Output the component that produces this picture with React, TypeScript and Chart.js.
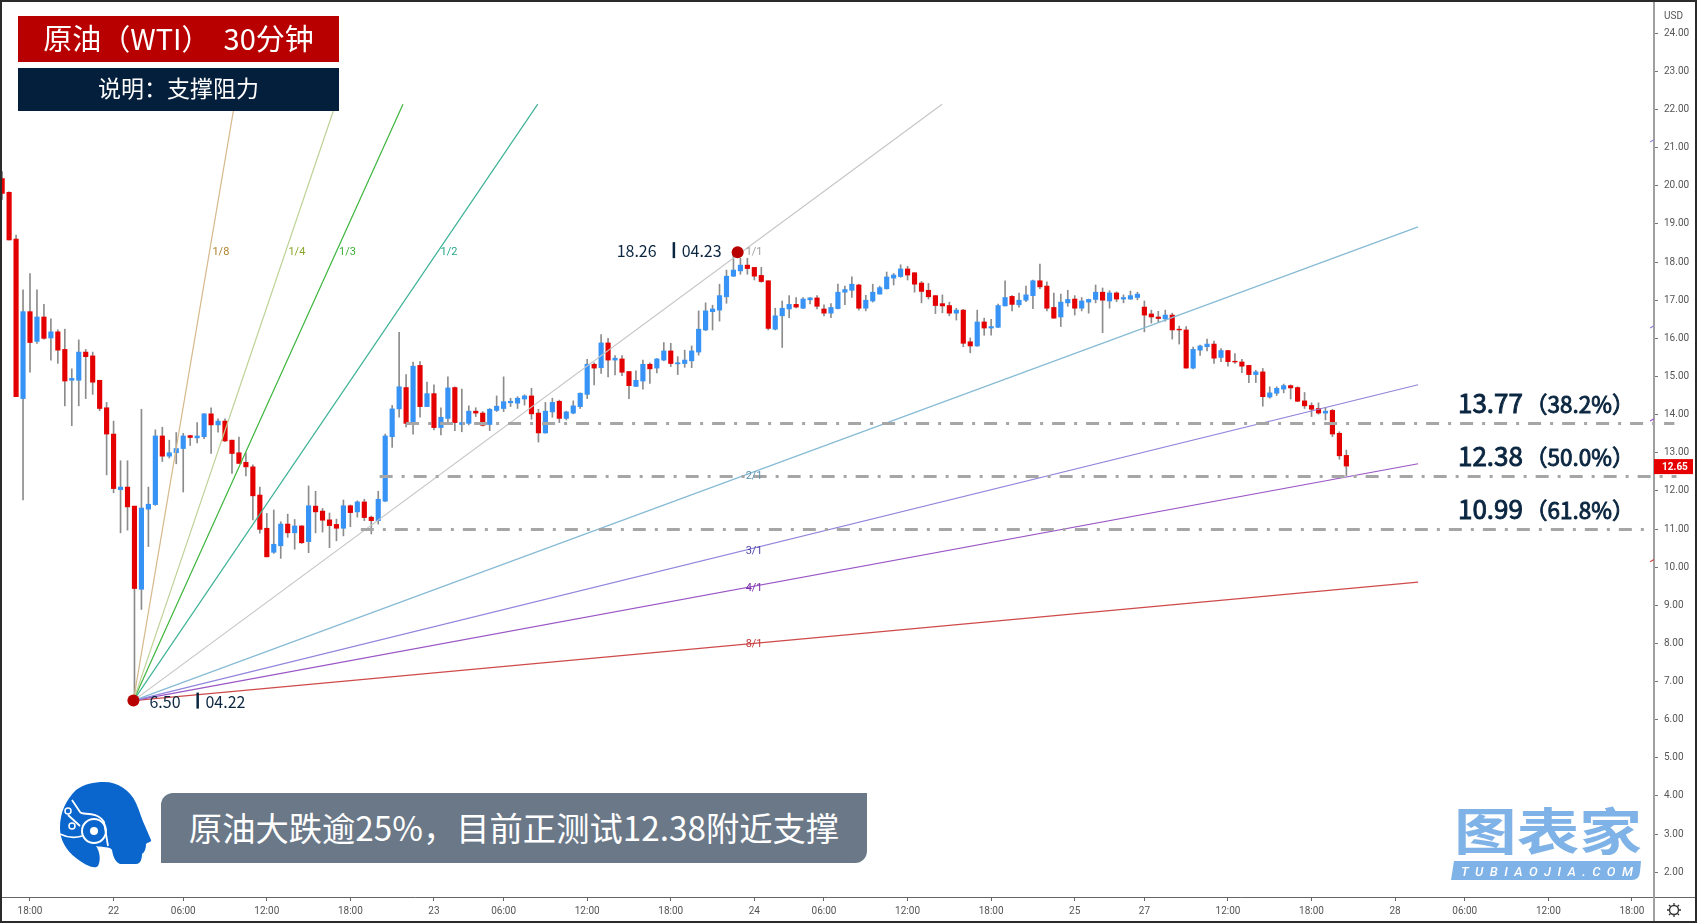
import React, { useEffect, useRef } from "react";
import { Chart, registerables } from "chart.js";

Chart.register(...registerables);

const firstBar = -4;
const opens = [
  20.19,19.83,18.60,14.42,16.70,15.92,16.56,16.01,16.17,15.71,
  14.90,14.90,15.64,15.54,14.90,14.18,13.49,12.03,12.10,11.60,
  9.42,11.52,11.64,13.44,12.91,13.00,13.11,13.45,13.39,13.42,
  14.02,13.73,13.83,13.33,13.00,12.75,12.63,11.89,11.02,10.39,
  10.56,11.13,10.90,11.08,10.67,11.60,11.47,11.24,11.12,11.02,
  11.61,11.45,11.71,11.31,11.22,11.73,13.42,14.15,14.71,13.79,
  15.29,14.21,14.55,13.66,13.90,14.71,13.74,13.77,14.09,14.04,
  13.74,14.11,14.16,14.31,14.30,14.41,14.49,14.04,13.52,14.07,
  14.35,13.90,14.04,14.21,14.53,15.32,15.23,15.88,15.43,15.46,
  15.13,14.74,14.88,15.32,15.22,15.43,15.67,15.33,15.34,15.41,
  15.64,16.22,16.70,16.74,17.09,17.63,17.77,17.92,17.86,17.65,
  17.51,16.24,16.59,16.77,16.89,16.79,17.01,17.06,16.77,16.66,
  16.78,17.21,17.26,17.40,16.79,16.98,17.16,17.30,17.58,17.62,
  17.82,17.72,17.45,17.26,17.12,16.91,16.86,16.66,16.74,15.91,
  15.80,16.43,16.27,16.29,16.85,17.10,16.88,17.00,17.12,17.51,
  17.37,16.81,16.56,16.93,17.03,16.79,16.95,17.02,17.21,16.98,
  17.19,17.03,17.03,17.07,16.82,16.64,16.56,16.51,16.61,16.24,
  16.22,15.22,15.69,15.78,15.85,15.50,15.68,15.40,15.38,15.29,
  15.05,15.12,14.46,14.56,14.67,14.76,14.71,14.36,14.24,14.16,
  14.04,14.11,13.51,12.93,
];
const closes = [
  19.80,18.58,14.47,16.70,15.89,16.56,16.00,16.17,15.69,14.88,
  14.95,15.64,15.52,14.85,14.16,13.49,12.06,12.10,11.58,9.44,
  11.55,11.65,13.44,12.91,13.00,13.11,13.44,13.40,13.44,14.02,
  13.73,13.83,13.31,12.98,12.72,12.63,11.87,10.99,10.27,10.60,
  11.13,10.90,11.08,10.64,11.61,11.45,11.23,11.09,11.02,11.61,
  11.43,11.71,11.30,11.22,11.78,13.44,14.15,14.73,13.77,15.27,
  14.21,14.55,13.66,13.93,14.70,13.79,13.79,14.09,14.04,13.72,
  14.14,14.22,14.34,14.35,14.43,14.49,14.02,13.52,14.09,14.32,
  13.90,14.07,14.23,14.56,15.32,15.22,15.88,15.43,15.48,15.11,
  14.76,14.90,15.32,15.20,15.46,15.67,15.34,15.36,15.43,15.67,
  16.24,16.72,16.77,17.12,17.63,17.79,17.92,17.83,17.63,17.49,
  16.26,16.59,16.79,16.89,16.82,17.03,17.06,16.84,16.66,16.81,
  17.21,17.28,17.42,16.79,17.00,17.21,17.33,17.61,17.66,17.82,
  17.66,17.42,17.23,17.09,16.86,16.85,16.66,16.74,15.87,15.80,
  16.43,16.27,16.31,16.86,17.07,16.89,17.00,17.14,17.51,17.35,
  16.79,16.53,16.95,17.02,16.79,16.98,17.02,17.21,17.00,17.19,
  17.03,17.07,17.12,17.16,16.61,16.56,16.52,16.61,16.22,16.22,
  15.22,15.71,15.80,15.85,15.48,15.68,15.39,15.38,15.27,15.05,
  15.12,14.47,14.57,14.69,14.76,14.70,14.35,14.23,14.14,14.04,
  14.09,13.49,12.92,12.65,
];
const highs = [
  20.37,19.84,18.71,17.27,17.70,17.27,16.89,16.51,16.22,16.24,
  15.20,15.96,15.71,15.64,14.90,14.32,13.83,12.79,12.79,11.60,
  14.14,12.10,13.60,13.67,13.33,13.53,13.51,13.46,13.79,14.03,
  14.18,13.89,13.89,13.33,13.41,13.00,12.68,12.10,11.41,11.50,
  11.19,11.39,11.25,11.09,12.13,11.99,11.54,11.42,11.26,11.76,
  11.63,11.74,11.78,11.34,11.99,13.49,14.24,16.16,15.05,15.38,
  15.39,14.85,14.78,14.18,14.99,14.73,14.67,14.23,14.18,14.08,
  14.16,14.49,14.99,14.43,14.47,14.52,14.69,14.14,14.32,14.43,
  14.38,14.09,14.36,14.57,15.45,15.36,16.10,16.00,15.55,15.55,
  15.13,15.15,15.43,15.36,15.47,15.89,15.87,15.52,15.69,15.80,
  16.72,16.93,16.87,17.42,17.79,18.26,18.10,18.10,17.86,17.86,
  17.51,16.79,16.98,17.12,17.07,17.07,17.07,17.12,16.88,16.91,
  17.42,17.37,17.61,17.42,17.13,17.42,17.37,17.74,17.70,17.93,
  17.89,17.72,17.49,17.44,17.12,17.14,16.95,16.79,16.76,16.01,
  16.74,16.53,16.50,16.90,17.51,17.12,17.19,17.37,17.53,17.95,
  17.48,17.19,17.16,17.26,17.12,17.07,17.03,17.40,17.32,17.25,
  17.22,17.14,17.24,17.21,16.98,16.74,16.71,16.74,16.66,16.32,
  16.31,15.77,15.82,15.98,15.93,15.73,15.68,15.60,15.45,15.29,
  15.16,15.21,14.73,14.73,14.80,14.78,14.73,14.58,14.31,14.31,
  14.19,14.14,13.55,13.07,
];
const lows = [
  19.64,18.58,14.47,11.76,15.11,15.87,15.98,15.43,15.34,14.23,
  13.71,14.23,14.42,14.53,14.10,12.42,11.95,10.90,10.97,6.50,
  8.89,10.54,11.62,12.77,12.86,12.71,11.97,13.19,13.26,13.37,
  12.98,13.54,13.29,12.46,12.72,12.39,11.24,10.89,10.27,10.36,
  10.23,10.78,10.47,10.62,10.38,10.90,10.92,10.51,10.69,10.82,
  11.06,11.31,11.22,10.87,11.13,11.72,13.14,13.93,13.68,13.49,
  13.93,14.21,13.60,13.47,13.81,13.58,13.55,13.73,13.95,13.70,
  13.58,14.08,14.08,14.21,14.16,14.25,13.88,13.28,13.51,13.93,
  13.79,13.86,14.02,14.16,14.42,14.78,15.08,14.99,15.04,15.02,
  14.42,14.73,14.67,14.82,15.09,15.41,15.26,15.05,15.24,15.23,
  15.56,16.20,16.22,16.45,16.92,17.62,17.68,17.68,17.53,17.47,
  16.22,16.22,15.76,16.54,16.80,16.78,16.90,16.77,16.59,16.54,
  16.77,16.88,17.07,16.74,16.72,16.95,17.16,17.29,17.40,17.60,
  17.53,17.21,16.93,17.03,16.65,16.67,16.59,16.48,15.78,15.62,
  15.79,16.08,16.08,16.28,16.85,16.72,16.82,16.96,16.78,17.30,
  16.72,16.52,16.31,16.84,16.61,16.72,16.66,16.93,16.15,16.79,
  16.96,16.93,17.02,17.01,16.17,16.40,16.42,16.45,15.98,15.85,
  15.22,15.20,15.55,15.67,15.34,15.39,15.27,15.34,15.10,14.84,
  14.84,14.22,14.43,14.50,14.57,14.41,14.34,14.16,13.95,14.01,
  13.86,13.42,12.83,12.40,
];

const xTickBars = [0,12,22,34,46,58,68,80,92,104,114,126,138,150,160,172,184,196,206,218,230];
const xTickLabels = ["18:00","22","06:00","12:00","18:00","23","06:00","12:00","18:00","24","06:00","12:00","18:00","25","27","12:00","18:00","28","06:00","12:00","18:00"];
const yTickValues = [2,3,4,5,6,7,8,9,10,11,12,13,14,15,16,17,18,19,20,21,22,23,24];

const pivotLow = { bar: 14.85, price: 6.5, text: "6.50", date: "04.22" };
const pivotHigh = { bar: 101.6, price: 18.26, text: "18.26", date: "04.23" };
const fanRunBars = 87.3;
const fanCeiling = 22.14;
const fanEndBar = 199.3;

const fanNames = ["1/8","1/4","1/3","1/2","1/1","2/1","3/1","4/1","8/1"];
const fanRatios = [8,4,3,2,1,1/2,1/3,1/4,1/8];
const fanLineColors = ["#d6b98c","#bdd296","#3db53d","#3fb296","#c6c6c6","#86bad6","#8f85dc","#9a55c6","#cf4a4a"];
const fanTextColors = ["#b0822c","#8aa62a","#3cb034","#22a884","#a0a0a0","#5f93ad","#4f45a8","#7a2ba8","#c03a3a"];

const levelPrices = [13.77,12.38,10.99];
const levelStarts = [54,50.2,47.5];
const levelEnds = [236.1,236.4,232];
const levelPercents = ["（38.2%）","（50.0%）","（61.8%）"];
const levelPriceTexts = ["13.77","12.38","10.99"];

const stubValues = [21.18,16.30,13.86,10.17];
const stubColors = ["#8f85dc","#8f85dc","#9a55c6","#cf4a4a"];

const lastPrice = 12.65;

const UP = "#3793f5";
const DOWN = "#e40000";
const NAVY = "#0b2640";
const CJK = '"Noto Sans CJK SC", "Noto Sans", sans-serif';

const pinAreaPlugin = {
  id: "pinArea",
  afterLayout(chart: any) {
    const { chartArea: a, scales } = chart;
    a.top = 2;
    a.bottom = 897;
    a.height = 895;
    const { x, y } = scales;
    y.top = 2;
    y.bottom = 897;
    y.height = 895;
    y.configure();
    x.top = 897;
    x.bottom = 921;
    x.height = 24;
    x.configure();
  },
};

const annotationPlugin = {
  id: "annotationText",
  afterDatasetsDraw(chart: any) {
    const { ctx, scales } = chart;
    const xs = scales.x;
    const ys = scales.y;
    const rise = pivotHigh.price - pivotLow.price;
    ctx.save();
    ctx.textBaseline = "middle";
    ctx.textAlign = "left";
    ctx.font = '11px Roboto, sans-serif';
    fanNames.forEach((name, i) => {
      const r = fanRatios[i];
      ctx.fillStyle = fanTextColors[i];
      if (r > 1) {
        const b = pivotLow.bar + fanRunBars / r;
        ctx.fillText(name, xs.getPixelForValue(b) + 3, ys.getPixelForValue(pivotHigh.price));
      } else {
        const p = pivotLow.price + rise * r;
        ctx.fillText(name, xs.getPixelForValue(pivotHigh.bar) + 8, ys.getPixelForValue(p));
      }
    });

    ctx.textBaseline = "alphabetic";
    ctx.fillStyle = NAVY;
    ctx.strokeStyle = NAVY;
    ctx.lineWidth = 0.9;
    levelPrices.forEach((p, i) => {
      const y = ys.getPixelForValue(p) - 10;
      ctx.font = `26px ${CJK}`;
      ctx.fillText(levelPriceTexts[i], 1458, y);
      ctx.strokeText(levelPriceTexts[i], 1458, y);
      ctx.font = `22.5px ${CJK}`;
      ctx.fillText(levelPercents[i], 1525, y);
      ctx.strokeText(levelPercents[i], 1525, y);
    });

    const pivotText = (p: any, dxA: number, dxBar: number, dxB: number, dy: number) => {
      const x = xs.getPixelForValue(p.bar);
      const y = ys.getPixelForValue(p.price);
      ctx.font = `16px ${CJK}`;
      ctx.fillStyle = NAVY;
      ctx.fillText(p.text, x + dxA, y + dy);
      ctx.fillText(p.date, x + dxB, y + dy);
      ctx.fillRect(x + dxBar, y + dy - 15, 2.5, 16);
    };
    pivotText(pivotHigh, -121, -65, -56, 5);
    pivotText(pivotLow, 16, 63, 72, 7);

    // price scale furniture
    ctx.font = '10px Roboto, sans-serif';
    ctx.fillStyle = "#555";
    ctx.textAlign = "left";
    ctx.fillText("USD", 1664, 19);
    const yp = ys.getPixelForValue(lastPrice);
    ctx.fillStyle = "#e60000";
    ctx.fillRect(1654, yp - 7, 39, 15);
    ctx.fillStyle = "#fff";
    ctx.font = 'bold 10px Roboto, sans-serif';
    ctx.fillText(lastPrice.toFixed(2), 1662, yp + 4);
    ctx.strokeStyle = "#666";
    ctx.lineWidth = 1;
    ctx.beginPath();
    ctx.moveTo(1654, 897.5);
    ctx.lineTo(1695, 897.5);
    ctx.stroke();
    ctx.strokeStyle = "#a0a0a0";
    ctx.lineWidth = 2;
    ctx.beginPath();
    ctx.moveTo(1654, 897);
    ctx.lineTo(1654, 921);
    ctx.stroke();
    ctx.restore();
  },
};

export default function App() {
  const ref = useRef<HTMLCanvasElement>(null);
  useEffect(() => {
    document.body.style.margin = "0";
    document.body.style.background = "#fff";
    const barX = (i: number) => i + firstBar;
    const fanDatasets = fanRatios.map((r, i) => {
      const slope = ((pivotHigh.price - pivotLow.price) / fanRunBars) * r;
      const capBar = pivotLow.bar + (fanCeiling - pivotLow.price) / slope;
      const endBar = Math.min(capBar, fanEndBar);
      return {
        type: "line",
        data: [
          { x: pivotLow.bar, y: pivotLow.price },
          { x: endBar, y: pivotLow.price + slope * (endBar - pivotLow.bar) },
        ],
        borderColor: fanLineColors[i],
        borderWidth: 1.2,
        pointRadius: 0,
        order: 3,
      };
    });
    const levelDatasets = levelPrices.map((p, i) => ({
      type: "line",
      data: [
        { x: levelStarts[i], y: p },
        { x: levelEnds[i], y: p },
      ],
      borderColor: "#a6a6a6",
      borderWidth: 3,
      borderDash: [13, 9, 3, 9],
      pointRadius: 0,
      clip: false,
      order: 2,
    }));
    const stubDatasets = stubValues.map((v, i) => ({
      type: "line",
      data: [
        { x: 232.6, y: v - 0.03 },
        { x: 233.17, y: v + 0.03 },
      ],
      borderColor: stubColors[i],
      borderWidth: 1.2,
      pointRadius: 0,
      order: 3,
    }));
    const chart = new Chart(ref.current as HTMLCanvasElement, {
      type: "bar",
      data: {
        datasets: [
          {
            type: "bar",
            data: highs.map((h, i) => ({ x: barX(i), y: [lows[i], h] })),
            backgroundColor: "#8c8c8c",
            barThickness: 1,
            grouped: false,
            order: 6,
          },
          {
            type: "bar",
            data: opens.map((o, i) => ({ x: barX(i), y: [o, closes[i]] })),
            backgroundColor: opens.map((o, i) => (closes[i] >= o ? UP : DOWN)),
            barThickness: 4.5,
            grouped: false,
            order: 5,
          },
          ...fanDatasets,
          ...stubDatasets,
          ...levelDatasets,
          {
            type: "line",
            data: [
              { x: pivotLow.bar, y: pivotLow.price },
              { x: pivotHigh.bar, y: pivotHigh.price },
            ],
            showLine: false,
            pointRadius: 6,
            pointBackgroundColor: "#b80000",
            pointBorderWidth: 0,
            clip: false,
            order: 1,
          },
        ] as any,
      },
      options: {
        responsive: false,
        animation: false,
        devicePixelRatio: 1,
        events: [],
        layout: { autoPadding: false, padding: { left: 2, top: 2, right: 2, bottom: 2 } },
        plugins: { legend: { display: false }, tooltip: { enabled: false } },
        scales: {
          x: {
            type: "linear",
            min: -4.02,
            max: 233.17,
            offset: false,
            afterBuildTicks: (s: any) => {
              s.ticks = xTickBars.map((value) => ({ value }));
            },
            afterFit: (s: any) => {
              s.height = 24;
            },
            grid: { offset: false, drawOnChartArea: false, drawTicks: true, tickLength: 4, color: "#666" },
            border: { color: "#666", width: 1 },
            ticks: {
              autoSkip: false,
              maxRotation: 0,
              padding: 4,
              color: "#555",
              font: { family: "Roboto", size: 10 },
              callback: (_v: any, i: number) => xTickLabels[i],
            },
          },
          y: {
            type: "linear",
            position: "right",
            min: 1.35,
            max: 24.82,
            afterBuildTicks: (s: any) => {
              s.ticks = yTickValues.map((value) => ({ value }));
            },
            afterFit: (s: any) => {
              s.width = 41;
            },
            grid: { drawOnChartArea: false, drawTicks: true, tickLength: 4, color: "#777" },
            border: { color: "#a0a0a0", width: 2 },
            ticks: {
              autoSkip: false,
              padding: 6,
              color: "#555",
              font: { family: "Roboto", size: 10 },
              callback: (v: any) => Number(v).toFixed(2),
            },
          },
        },
      } as any,
      plugins: [pinAreaPlugin, annotationPlugin] as any,
    });
    return () => chart.destroy();
  }, []);

  const box = (x: number, y: number, w: number, h: number, bg: string, size: number, text: string) => (
    <div
      style={{
        position: "absolute",
        left: x,
        top: y,
        width: w,
        height: h,
        paddingBottom: 5,
        boxSizing: "border-box",
        background: bg,
        color: "#fff",
        font: `${size}px ${CJK}`,
        display: "flex",
        alignItems: "center",
        justifyContent: "center",
        whiteSpace: "pre",
      }}
    >
      {text}
    </div>
  );

  return (
    <div style={{ position: "fixed", left: 0, top: 0, width: 1697, height: 923, overflow: "hidden", background: "#fff" }}>
      <canvas ref={ref} width={1697} height={923} style={{ display: "block", width: 1697, height: 923 }} />
      <div style={{ position: "absolute", left: 0, top: 0, width: 1697, height: 923, boxSizing: "border-box", border: "2px solid #2b2b2b", pointerEvents: "none" }} />
      {box(18, 16, 321, 46, "#b80000", 29, "原油（WTI）  30分钟")}
      {box(18, 68, 321, 43, "#041f3b", 23, "说明：支撑阻力")}
      <div
        style={{
          position: "absolute",
          left: 161,
          top: 793,
          width: 706,
          height: 70,
          paddingBottom: 4,
          boxSizing: "border-box",
          background: "#6a7888",
          borderRadius: "12px 0 12px 0",
          color: "#fff",
          font: `33.3px ${CJK}`,
          display: "flex",
          alignItems: "center",
          justifyContent: "center",
          whiteSpace: "pre",
        }}
      >
        原油大跌逾25%，目前正测试12.38附近支撑
      </div>
      <svg width={1697} height={923} style={{ position: "absolute", left: 0, top: 0, pointerEvents: "none" }}>
        <path
          d="M104 782C118 782 130 790 136 803C140 812 142 820 145 826L151 840C152 842 148 842 146 844C146 848 145 852 142 854C142 858 141 864 136 864L120 864C115 862 113 856 112 850C110 846 102 848 96 846C100 852 101 860 98 866C94 870 84 864 76 858C66 850 60 840 60 828C60 812 66 800 76 790C84 784 94 782 104 782Z"
          fill="#0a66cc"
        />
        <circle cx={94} cy={831} r={12} fill="none" stroke="#fff" strokeWidth={2} />
        <circle cx={94} cy={831} r={4} fill="#fff" />
        <path d="M60 834C68 838 76 838 82 836M72 800L80 812C82 816 96 810 104 822L108 846M68 815L80 826" fill="none" stroke="#fff" strokeWidth={1.8} />
        <circle cx={68} cy={811} r={3} fill="none" stroke="#fff" strokeWidth={1.5} />
        <circle cx={72} cy={826} r={3} fill="none" stroke="#fff" strokeWidth={1.5} />
        <text x={1454} y={850} textLength={188} lengthAdjust="spacingAndGlyphs" fontFamily={CJK} fontWeight={700} fontSize={50} fill="#7fb2e6">
          图表家
        </text>
        <path d="M1454 861L1641 861L1640 872Q1639 880 1632 880L1451 880Z" fill="#7fb2e6" />
        <text x={1461} y={876} textLength={172} fontFamily="Roboto, sans-serif" fontStyle="italic" fontWeight={500} fontSize={13} fill="#fff">
          TUBIAOJIA.COM
        </text>
        <circle cx={1674} cy={910} r={4.5} fill="none" stroke="#333" strokeWidth={1.4} />
        <path d="M1674 903V905M1674 915V917M1667 910H1669M1679 910H1681M1669 905L1670.5 906.5M1677.5 913.5L1679 915M1669 915L1670.5 913.5M1677.5 906.5L1679 905" stroke="#333" strokeWidth={1.3} />
      </svg>
    </div>
  );
}
